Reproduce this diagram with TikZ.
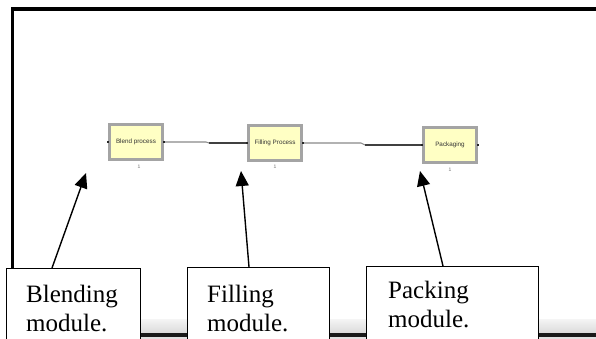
\documentclass[tikz,border=0pt]{standalone}
\usepackage{fontspec}
\setmainfont{Liberation Serif}
\newfontfamily\modfont{Liberation Sans}
\usetikzlibrary{arrows.meta,calc}
\definecolor{modfill}{HTML}{FFFFC4}
\definecolor{modedge}{HTML}{A4A4A4}
\definecolor{conngray}{HTML}{8A8A8A}
\tikzset{
  modbox/.style={draw=modedge, fill=modfill, line width=3pt, minimum width=53pt, minimum height=35pt, inner sep=0pt,
    font=\modfont\fontsize{6.3}{7}\selectfont, text=black!80},
  counter/.style={font=\modfont\fontsize{5}{5}\selectfont, text=black!55, inner sep=0pt},
  conn/.style={draw=conngray, line width=1.1pt},
  conndark/.style={draw=black!75, line width=1.1pt},
  portdot/.style={fill=black!85},
  cbox/.style={draw=black, fill=white, line width=1.2pt, anchor=north west, inner sep=0pt},
  ctext/.style={anchor=north west, inner sep=0pt, align=left, font=\fontsize{25}{29}\selectfont},
  callarrow/.style={draw=black, line width=1.4pt, -{Triangle[length=15pt,width=13pt]}}
}
\begin{document}
\begin{tikzpicture}[x=1pt,y=-1pt]
\useasboundingbox (0,0) rectangle (596,339);
\clip (0,0) rectangle (596,339);
\fill[white] (0,0) rectangle (596,339);
% window frame
\draw[line width=3.6pt, line join=miter] (12.5,268) -- (12.5,9) -- (596,9);
% bottom status stripe
\shade[top color=black!4, bottom color=black!14] (12,319) rectangle (596,332.5);
\fill[black!90] (12,332.5) rectangle (596,337);
\fill[black!12] (12,337) rectangle (596,339);
% modules
\node[modbox] (b1) at (136,142) {Blend process};
\node[modbox] (b2) at (275,143) {Filling Process};
\node[modbox] (b3) at (450,145) {Packaging};
\node[counter] (n1) at (139,167) {1};
\node[counter] (n2) at (275,167) {1};
\node[counter] (n3) at (450,170) {1};
% connectors
\coordinate (k1) at (206,142);
\coordinate (k2) at (209,143);
\coordinate (k3) at (361,143);
\coordinate (k4) at (365,145);
\draw[conn] (b1.east) -- (k1) -- (k2);
\draw[conndark] (k2) -- (b2.west);
\draw[conn] (b2.east) -- (k3) -- (k4);
\draw[conndark] (k4) -- (b3.west);
% ports
\foreach \p in {b1.west,b1.east,b2.west,b2.east,b3.west,b3.east}
  \fill[portdot] ($(\p)+(-1.3,-1.3)$) rectangle ++(2.6,2.6);
% callouts
\node[cbox, minimum width=134pt, minimum height=90pt] (c1) at (6,268) {};
\node[cbox, minimum width=142pt, minimum height=90pt] (c2) at (187,267) {};
\node[cbox, minimum width=172pt, minimum height=92pt] (c3) at (366,266) {};
\node[ctext] (t1) at (26,285) {Blending\\module.};
\node[ctext] (t2) at (207,285) {Filling\\module.};
\node[ctext] (t3) at (388,281) {Packing\\module.};
\coordinate (s1) at (52,268);
\coordinate (p1) at (86,173);
\coordinate (s2) at (249,267);
\coordinate (p2) at (241,171);
\coordinate (s3) at (443,266);
\coordinate (p3) at (420,171);
\draw[callarrow] (s1) -- (p1);
\draw[callarrow] (s2) -- (p2);
\draw[callarrow] (s3) -- (p3);
\end{tikzpicture}
\end{document}
